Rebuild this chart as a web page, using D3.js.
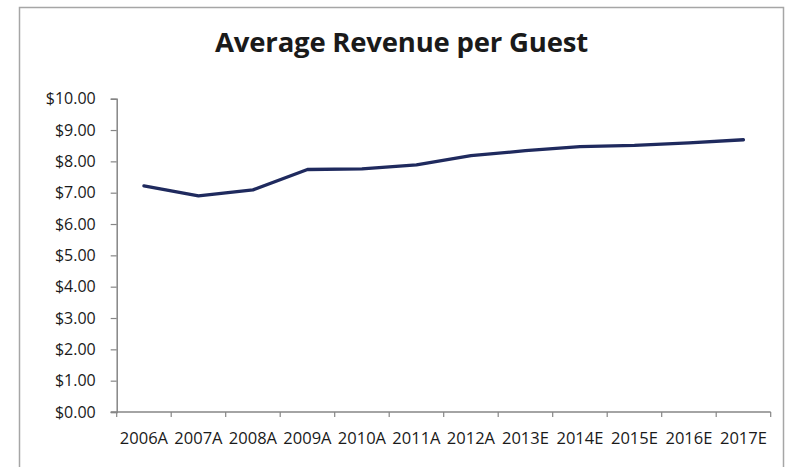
<!DOCTYPE html>
<html>
<head>
<meta charset="utf-8">
<script src="https://cdn.jsdelivr.net/npm/d3@7"></script>
<style>
  html, body { margin: 0; padding: 0; background: #ffffff; }
  svg { display: block; }
  text { font-family: "Open Sans", "DejaVu Sans", sans-serif; fill: #1a1a1a; }
</style>
</head>
<body>
<svg id="chart" width="786" height="467"></svg>
<script>
// Average revenue per guest, actual (A) and estimated (E) years
const years = ["2006A", "2007A", "2008A", "2009A", "2010A", "2011A",
               "2012A", "2013E", "2014E", "2015E", "2016E", "2017E"];
const revenue = [7.22, 6.90, 7.09, 7.74, 7.76, 7.89, 8.18, 8.34, 8.47, 8.51, 8.59, 8.69];
const yTicks = [0, 1, 2, 3, 4, 5, 6, 7, 8, 9, 10];
const chartTitle = "Average Revenue per Guest";

const W = 786, H = 467;
const margin = { left: 116.7, right: W - 770.7, top: 98.7, bottom: H - 412 };

const svg = d3.select("#chart");

// chart frame (open at the bottom edge)
svg.append("path")
  .attr("d", `M19.5,${H} V7.5 H783.5 V${H}`)
  .attr("fill", "none")
  .attr("stroke", "#a6a6a6")
  .attr("stroke-width", 1.5);

svg.append("text")
  .attr("x", 401.5)
  .attr("y", 52)
  .attr("text-anchor", "middle")
  .attr("font-size", 27.5)
  .attr("font-weight", 700)
  .attr("letter-spacing", -0.2)
  .text(chartTitle);

const x = d3.scaleBand()
  .domain(years)
  .range([margin.left, W - margin.right])
  .paddingInner(0).paddingOuter(0);

const y = d3.scaleLinear()
  .domain([0, 10])
  .range([H - margin.bottom, margin.top]);

const axisColor = "#868686";

// y axis
const yAxis = svg.append("g")
  .attr("transform", `translate(${margin.left},0)`)
  .call(d3.axisLeft(y).tickValues(yTicks).tickSize(6).tickPadding(15)
    .tickFormat(d => "$" + d3.format(".2f")(d)));
yAxis.select(".domain").attr("stroke", axisColor).attr("stroke-width", 1.5);
yAxis.selectAll(".tick line").attr("stroke", axisColor).attr("stroke-width", 1.2);
yAxis.selectAll(".tick text")
  .attr("font-size", 16)
  .attr("font-family", "'Open Sans', sans-serif")
  .attr("fill", "#1a1a1a");

// x axis, ticks on category boundaries
const xBoundaries = years.map(d => x(d)).concat([x.range()[1]]);
const xg = svg.append("g").attr("transform", `translate(0,${y(0)})`);
xg.append("line")
  .attr("x1", x.range()[0] - 6).attr("x2", x.range()[1])
  .attr("stroke", axisColor).attr("stroke-width", 1.5);
xg.selectAll("line.tk").data(xBoundaries).join("line")
  .attr("class", "tk")
  .attr("x1", d => d).attr("x2", d => d)
  .attr("y1", 0).attr("y2", 5)
  .attr("stroke", axisColor).attr("stroke-width", 1.2);
xg.selectAll("text").data(years).join("text")
  .attr("x", d => x(d) + x.bandwidth() / 2)
  .attr("y", 31.5)
  .attr("text-anchor", "middle")
  .attr("font-size", 16.5)
  .text(d => d);

// revenue line through category centres
const line = d3.line()
  .x((d, i) => x(years[i]) + x.bandwidth() / 2)
  .y(d => y(d));

svg.append("path")
  .datum(revenue)
  .attr("d", line)
  .attr("fill", "none")
  .attr("stroke", "#1f2a5e")
  .attr("stroke-width", 3.3)
  .attr("stroke-linejoin", "round")
  .attr("stroke-linecap", "round");
</script>
</body>
</html>
